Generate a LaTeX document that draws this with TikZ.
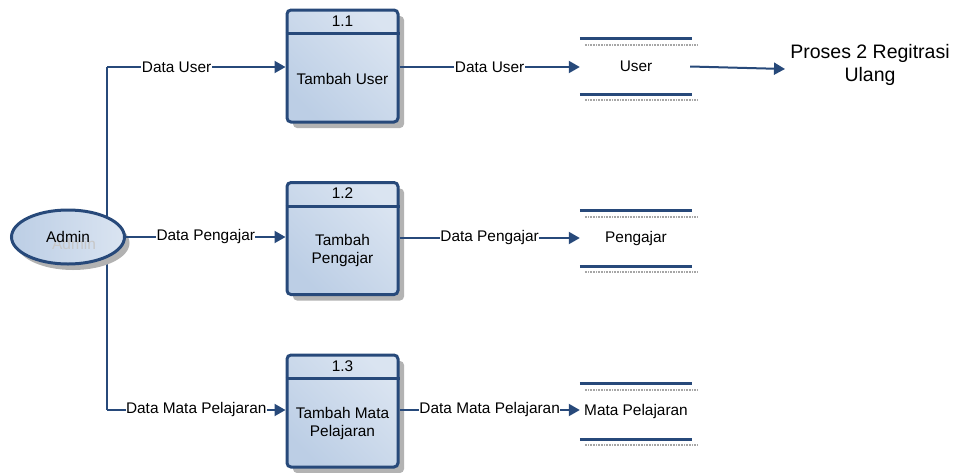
\documentclass[tikz,border=0pt]{standalone}
\usepackage{fontspec}
\setmainfont{Liberation Sans}
\usetikzlibrary{arrows.meta,shadows,calc,shapes.geometric,backgrounds}
\definecolor{dfdblue}{HTML}{27497A}
\definecolor{dfdfill}{HTML}{BCCEE5}
\definecolor{dfdfilltwo}{HTML}{DAE4F1}
\begin{document}
\begin{tikzpicture}[x=1pt,y=-1pt,
  font=\fontsize{15.4}{18}\selectfont,
  conn/.style={draw=dfdblue, line width=2pt},
  arr/.style={conn, -{Triangle[length=11pt,width=12pt]}},
  lbl/.style={fill=white, inner sep=0.5pt},
  shad/.style={drop shadow={shadow xshift=6pt, shadow yshift=-6pt, fill=black!40, opacity=0.75}},
  procbox/.style={draw=dfdblue, line width=3pt, rounded corners=4pt,
    shading=axis, left color=dfdfill, right color=dfdfilltwo, shading angle=135,
    minimum width=111pt, minimum height=112pt, inner sep=0pt, shad},
  divider/.style={draw=dfdblue, line width=3pt},
  storenode/.style={minimum width=112pt, minimum height=55pt, inner sep=0pt},
  storeline/.style={draw=dfdblue, line width=3pt},
  storeshadow/.style={draw=black!35, line width=2.5pt, dash pattern=on 1pt off 0.6pt},
]
\useasboundingbox (0,0) rectangle (960,472);

% Admin
\node[ellipse, fill=black!30, minimum width=113pt, minimum height=54pt] (adminsh) at (73,243) {};
\node[ellipse, draw=dfdblue, line width=3pt, left color=dfdfill, right color=dfdfilltwo,
  minimum width=113pt, minimum height=54pt, inner sep=0pt] (admin) at (68,237) {};
\node[text=black!22] (adminghost) at (74,244) {Admin};
\node (admintext) at (68,237) {Admin};

% Processes
\node[procbox] (p1) at (342.5,66) {};
\node[procbox] (p2) at (342.5,238.5) {};
\node[procbox] (p3) at (342.5,411) {};
\foreach \p/\n/\t in {p1/1.1/{Tambah User}, p2/1.2/{Tambah\\Pengajar}, p3/1.3/{Tambah Mata\\Pelajaran}}{
  \draw[divider] ($(\p.north west)+(0,25)$) -- ($(\p.north east)+(0,25)$);
  \node (\p num) at ($(\p.north)+(0,12.5)$) {\n};
  \node[align=center, inner sep=0pt] (\p txt) at ($(\p.center)+(0,12.5)$) {\t};
}

% Data stores
\node[storenode] (s1) at (636,66.5) {User};
\node[storenode] (s2) at (636,238.5) {Pengajar};
\node[storenode] (s3) at (636,411.5) {Mata Pelajaran};
\foreach \s in {s1,s2,s3}{
  \draw[storeshadow] ($(\s.north west)+(5,6)$) -- ($(\s.north east)+(5,6)$);
  \draw[storeshadow] ($(\s.south west)+(5,6)$) -- ($(\s.south east)+(5,6)$);
  \draw[storeline] (\s.north west) -- (\s.north east);
  \draw[storeline] (\s.south west) -- (\s.south east);
}

% External target
\node[align=center, font=\fontsize{19.5}{23}\selectfont] (proses) at (870,65) {Proses 2 Regitrasi\\Ulang};

% Connectors from Admin
\coordinate (j1) at (107,67);
\coordinate (j3) at (107,410);
\begin{scope}[on background layer]
\draw[conn] (j1) -- (j3);
\end{scope}
\draw[arr] (j1) -- (j1 -| p1.west) node[lbl, pos=0.39] (l1) {Data User};
\draw[arr] (admin.east) -- (admin.east -| p2.west) node[lbl, pos=0.5] (l2) {Data Pengajar};
\draw[arr] (j3) -- (j3 -| p3.west) node[lbl, pos=0.5] (l3) {Data Mata Pelajaran};

% Connectors to stores
\draw[arr] (p1.east |- 0,67) -- (s1.west |- 0,67) node[lbl, pos=0.5] (l4) {Data User};
\draw[arr] (p2.east |- 0,238) -- (s2.west |- 0,238) node[lbl, pos=0.5] (l5) {Data Pengajar};
\draw[arr] (p3.east |- 0,410) -- (s3.west |- 0,410) node[lbl, pos=0.5] (l6) {Data Mata Pelajaran};

% Store to Proses 2
\coordinate (pe) at (785,69);
\draw[arr] ($(s1.east)+(-2,0)$) -- (pe);
\end{tikzpicture}
\end{document}
